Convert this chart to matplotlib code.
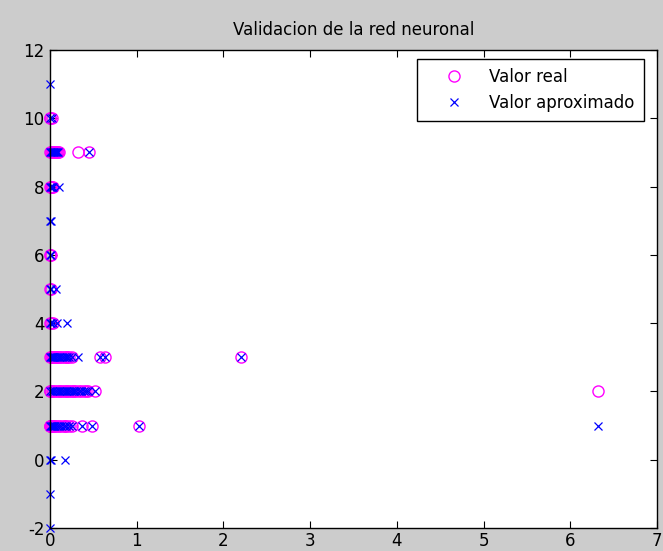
import numpy as np
from matplotlib import pyplot as plt

plt.rcParams['font.family'] = ['DejaVu Sans']
plt.rcParams['axes.unicode_minus'] = False

# entrada (eje x), valor real y valor aproximado por la red
x_in = [0.00,
        0.00, 0.02,
        0.00, 0.01, 0.02, 0.03, 0.04, 0.05, 0.06, 0.07, 0.08, 0.09, 0.32, 0.45,
        0.00, 0.01, 0.02, 0.03, 0.10,
        0.00, 0.01,
        0.00, 0.01,
        0.00, 0.01, 0.07,
        0.00, 0.01, 0.03, 0.08, 0.20,
        0.00, 0.01, 0.02, 0.03, 0.04, 0.05, 0.06, 0.08, 0.10, 0.12, 0.14, 0.16, 0.18, 0.20, 0.22, 0.25,
        0.58, 0.64, 2.20,
        0.00, 0.02, 0.04, 0.06, 0.08, 0.10, 0.12, 0.14, 0.16, 0.18, 0.20, 0.22, 0.24, 0.26, 0.28, 0.30,
        0.33, 0.36, 0.39, 0.42, 0.44, 0.52,
        0.00, 0.01, 0.02, 0.03, 0.05, 0.06, 0.08, 0.10, 0.13, 0.16, 0.19, 0.22, 0.25,
        0.37, 0.48, 1.03, 6.32,
        0.00, 0.01, 0.17,
        0.00,
        0.00]
y_real = [10,
          10, 10,
          9, 9, 9, 9, 9, 9, 9, 9, 9, 9, 9, 9,
          8, 8, 8, 8, 9,
          6, 8,
          6, 6,
          5, 5, 3,
          4, 4, 4, 3, 3,
          3, 3, 3, 3, 3, 3, 3, 3, 3, 3, 3, 3, 3, 3, 3, 3,
          3, 3, 3,
          2, 2, 2, 2, 2, 2, 2, 2, 2, 2, 2, 2, 2, 2, 2, 2,
          2, 2, 2, 2, 2, 2,
          1, 1, 1, 1, 1, 1, 1, 1, 1, 1, 1, 1, 1,
          1, 1, 1, 2,
          1, 1, 1,
          1,
          2]
y_aprox = [11,
           10, 10,
           9, 9, 9, 9, 9, 9, 9, 9, 9, 9, 3, 9,
           8, 8, 8, 8, 8,
           7, 7,
           6, 6,
           5, 5, 5,
           4, 4, 4, 4, 4,
           3, 3, 3, 3, 3, 3, 3, 3, 3, 3, 3, 3, 3, 3, 3, 3,
           3, 3, 3,
           2, 2, 2, 2, 2, 2, 2, 2, 2, 2, 2, 2, 2, 2, 2, 2,
           2, 2, 2, 2, 2, 2,
           1, 1, 1, 1, 1, 1, 1, 1, 1, 1, 1, 1, 1,
           1, 1, 1, 1,
           0, 0, 0,
           -1,
           -2]

fig = plt.figure(figsize=(6.63, 5.51), dpi=100, facecolor='#cccccc')
ax = fig.add_axes([0.0754, 0.0417, 0.9156, 0.8675])
ax.plot(x_in, y_real, 'o', color='#ff00ff', markerfacecolor='none', markersize=8,
        markeredgewidth=1.0, clip_on=False, label='Valor real')
ax.plot(x_in, y_aprox, 'x', color='#0000ff', markersize=5.5, markeredgewidth=0.9,
        clip_on=False, label='Valor aproximado')

ax.set_xlim(0, 7)
ax.set_ylim(-2, 12)
ax.set_xticks(np.arange(0, 8, 1))
ax.set_yticks(np.arange(-2, 13, 2))
ax.tick_params(direction='in', top=True, right=True, length=5, labelsize=12)
ax.tick_params(axis='x', pad=3)
ax.tick_params(axis='y', pad=4)
for s in ax.spines.values():
    s.set_linewidth(1.0)
ax.set_title('Validacion de la red neuronal', fontsize=12, pad=11)

leg = ax.legend(loc='upper right', bbox_to_anchor=(0.9713, 0.8929),
                bbox_transform=fig.transFigure, fontsize=12, fancybox=False,
                edgecolor='black', framealpha=1, borderaxespad=0,
                handletextpad=0.5, labelspacing=0.45, borderpad=0.55, handlelength=3.3)
leg.get_frame().set_linewidth(1.0)

fig.savefig('out.png', dpi=100, facecolor=fig.get_facecolor())
